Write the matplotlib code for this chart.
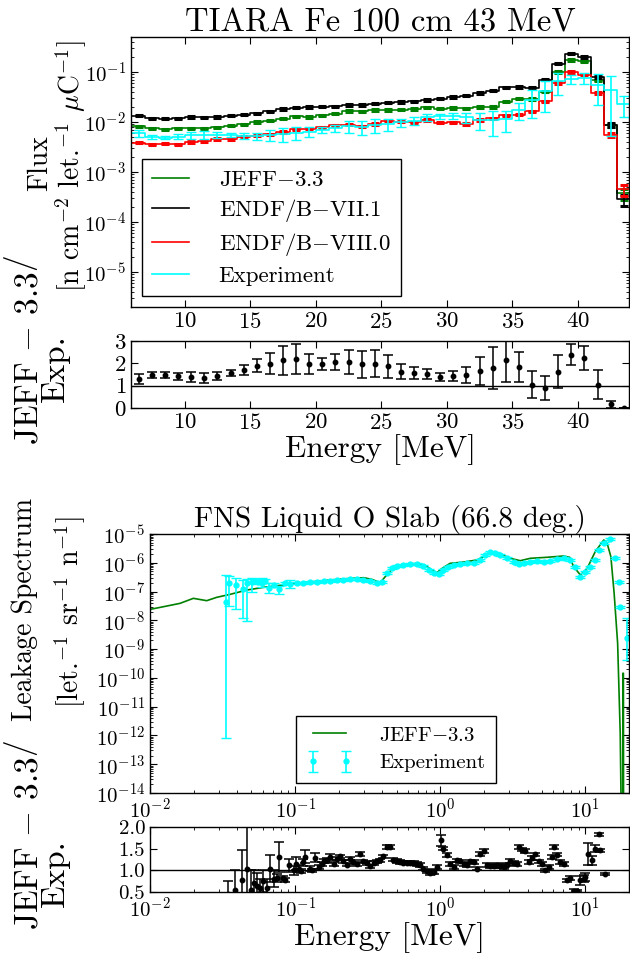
import matplotlib
matplotlib.use("Agg")
import matplotlib.pyplot as plt
from matplotlib.ticker import LogLocator, NullFormatter
import numpy as np

plt.rcParams["font.family"] = "serif"
plt.rcParams["font.serif"] = ["cmr10"]
plt.rcParams["mathtext.fontset"] = "cm"
plt.rcParams["axes.unicode_minus"] = False
plt.rcParams["axes.formatter.use_mathtext"] = True
plt.rcParams["xtick.direction"] = "in"
plt.rcParams["ytick.direction"] = "in"
plt.rcParams["xtick.top"] = True
plt.rcParams["ytick.right"] = True
plt.rcParams["xtick.labelsize"] = 15
plt.rcParams["ytick.labelsize"] = 15
plt.rcParams["xtick.major.size"] = 5
plt.rcParams["ytick.major.size"] = 5
plt.rcParams["xtick.minor.size"] = 2.5
plt.rcParams["ytick.minor.size"] = 2.5

# ---------------- TIARA Fe 100 cm 43 MeV (1 MeV bins, 6..44 MeV)
tiara_edges = list(range(6, 45))
tiara_jeff = [0.00813, 0.00741, 0.00718, 0.00741, 0.00752, 0.00741, 0.00776, 0.00838,
              0.00905, 0.00993, 0.0106, 0.0117, 0.0129, 0.0125, 0.0137, 0.0146,
              0.0165, 0.0163, 0.0173, 0.0173, 0.0175, 0.0181, 0.0196, 0.0184,
              0.0190, 0.0187, 0.0199, 0.0199, 0.0254, 0.0292, 0.0287, 0.0403,
              0.100, 0.174, 0.164, 0.0681, 0.00851, 0.000373]
tiara_endf71 = [0.0133, 0.0119, 0.0116, 0.0119, 0.0125, 0.0123, 0.0125, 0.0133,
                0.0139, 0.0150, 0.0163, 0.0181, 0.0192, 0.0199, 0.0201, 0.0205,
                0.0218, 0.0218, 0.0232, 0.0243, 0.0250, 0.0258, 0.0274, 0.0292,
                0.0315, 0.0335, 0.0379, 0.0422, 0.0492, 0.0500, 0.0485, 0.0702,
                0.147, 0.233, 0.200, 0.0794, 0.00877, 0.000283]
tiara_endf80 = [0.00388, 0.00359, 0.00370, 0.00359, 0.00400, 0.00419, 0.00459, 0.00459,
                0.00512, 0.00536, 0.00570, 0.00635, 0.00718, 0.00730, 0.00787, 0.00851,
                0.00877, 0.00813, 0.00918, 0.0106, 0.0102, 0.00977, 0.0110, 0.00962,
                0.00977, 0.00918, 0.0110, 0.0119, 0.0135, 0.0139, 0.0163, 0.0258,
                0.0601, 0.100, 0.0884, 0.0379, 0.00552, 0.000449]
tiara_exp = [0.00597, 0.00512, 0.00489, 0.00512, 0.00544, 0.00552, 0.00552, 0.00544,
             0.00527, 0.00527, 0.00552, 0.00579, 0.00615, 0.00644, 0.00697, 0.00752,
             0.00813, 0.00800, 0.00877, 0.00918, 0.00977, 0.0107, 0.0125, 0.0129,
             0.0133, 0.0125, 0.0110, 0.0110, 0.0114, 0.0175, 0.0279, 0.0409,
             0.0650, 0.0724, 0.0758, 0.0557, 0.0442, 0.0232]
tiara_exp_relerr = [0.18, 0.09, 0.08, 0.11, 0.17, 0.17, 0.12, 0.09, 0.13, 0.16, 0.24, 0.31,
                    0.30, 0.22, 0.14, 0.18, 0.26, 0.31, 0.30, 0.27, 0.20, 0.17, 0.15, 0.13,
                    0.15, 0.23, 0.38, 0.52, 0.45, 0.37, 0.56, 0.62, 0.46, 0.20, 0.24, 0.61,
                    0.88, 0.45]
tiara_calc_relerr = [0.03] * 36 + [0.08, 0.25]
tiara_ratio = [1.30, 1.48, 1.48, 1.42, 1.39, 1.35, 1.44, 1.56, 1.71, 1.90, 1.99, 2.13,
               2.20, 1.98, 1.96, 2.04, 2.07, 1.95, 1.98, 1.86, 1.63, 1.56, 1.53, 1.38,
               1.44, 1.48, 1.65, 1.80, 2.13, 1.83, 1.05, 0.89, 1.63, 2.38, 2.25, 1.05,
               0.17, 0.01]
tiara_ratio_err = [0.23, 0.13, 0.12, 0.16, 0.23, 0.23, 0.17, 0.14, 0.23, 0.30, 0.48, 0.65,
                   0.66, 0.44, 0.28, 0.36, 0.54, 0.61, 0.60, 0.50, 0.32, 0.26, 0.23, 0.18,
                   0.22, 0.34, 0.62, 0.94, 0.95, 0.67, 0.59, 0.55, 0.75, 0.47, 0.53, 0.64,
                   0.15, 0.01]

# ---------------- FNS liquid oxygen slab, 66.8 deg
fns_jeff_e = [0.0100, 0.0124, 0.0161, 0.0199, 0.0246, 0.0288, 0.0357, 0.0465, 0.0605,
              0.0789, 0.100, 0.134, 0.174, 0.227, 0.296, 0.338, 0.386, 0.418, 0.464,
              0.559, 0.690, 0.788, 0.877, 0.949, 1.03, 1.17, 1.45, 1.79, 1.99, 2.21,
              2.52, 3.04, 3.56, 4.18, 5.44, 7.09, 7.80, 8.31, 9.25, 10.3, 11.7, 13.4,
              14.1, 15.0, 15.8, 16.7, 17.4, 17.8, 18.1, 18.15, 18.3, 18.35]
fns_jeff = [2.40e-8, 2.98e-8, 3.89e-8, 5.81e-8, 4.82e-8, 6.29e-8, 8.0e-8, 1.13e-7, 1.40e-7,
            1.64e-7, 1.93e-7, 2.20e-7, 2.52e-7, 2.80e-7, 3.03e-7, 2.65e-7, 2.03e-7, 3.29e-7,
            5.92e-7, 8.36e-7, 9.55e-7, 8.14e-7, 5.61e-7, 4.53e-7, 6.40e-7, 9.55e-7, 1.06e-6,
            1.25e-6, 1.63e-6, 2.43e-6, 2.13e-6, 1.43e-6, 1.18e-6, 1.43e-6, 1.55e-6, 1.72e-6,
            1.55e-6, 7.31e-7, 3.76e-7, 6.40e-7, 2.43e-6, 6.18e-6, 5.0e-6, 1.63e-6, 8.65e-8,
            1.58e-9, 1.18e-12, 1e-16, 1e-16, 1.45e-10, 1.45e-10, 1e-16]

fns_exp_e = [0.0334, 0.0351, 0.0390, 0.0434, 0.0469, 0.0502, 0.0530, 0.0558, 0.0589, 0.0621,
             0.0665, 0.0710, 0.0780, 0.0853, 0.0925, 0.103, 0.114, 0.127, 0.141, 0.157,
             0.174, 0.194, 0.215, 0.239, 0.266, 0.296, 0.329, 0.366, 0.396, 0.429,
             0.465, 0.502, 0.558, 0.621, 0.690, 0.767, 0.832, 0.900, 0.975, 1.05,
             1.14, 1.24, 1.37, 1.53, 1.70, 1.89, 2.04, 2.21, 2.39, 2.59,
             2.88, 3.21, 3.47, 3.76, 4.18, 4.64, 5.16, 5.74, 6.38, 7.09,
             7.88, 8.53, 9.25, 10.0, 10.8, 11.7, 12.4, 13.4, 14.9, 16.1,
             17.0, 17.4, 19.4]
fns_exp = [4.22e-8, 1.93e-7, 1.69e-7, 1.19e-7, 1.93e-7, 2.20e-7, 2.39e-7, 2.20e-7, 2.03e-7, 2.39e-7,
           1.29e-7, 1.69e-7, 1.19e-7, 2.03e-7, 1.83e-7, 2.03e-7, 1.93e-7, 2.20e-7, 2.20e-7, 2.39e-7,
           2.39e-7, 2.52e-7, 2.52e-7, 2.65e-7, 2.65e-7, 2.52e-7, 2.26e-7, 1.93e-7, 2.20e-7, 4.30e-7,
           6.40e-7, 7.72e-7, 8.14e-7, 8.83e-7, 9.06e-7, 7.72e-7, 5.61e-7, 4.30e-7, 4.07e-7, 5.61e-7,
           7.31e-7, 8.36e-7, 9.06e-7, 9.55e-7, 1.01e-6, 1.25e-6, 1.86e-6, 2.31e-6, 2.13e-6, 1.86e-6,
           1.43e-6, 1.09e-6, 9.06e-7, 1.01e-6, 1.09e-6, 1.15e-6, 1.09e-6, 1.15e-6, 1.32e-6, 1.43e-6,
           1.25e-6, 7.31e-7, 3.29e-7, 4.91e-7, 7.31e-7, 1.25e-6, 2.78e-6, 4.74e-6, 6.53e-6, 1.43e-6,
           2.20e-7, 2.98e-8, 2.36e-9]
fns_exp_rel_lo = [0.99998, 0.84, 0.85, 0.90, 0.95, 0.55, 0.15, 0.15, 0.31, 0.15,
                  0.29, 0.15, 0.33, 0.10, 0.30] + [0.08] * 57 + [0.82]
fns_exp_rel_hi = [7.9, 0.80, 0.79, 1.12, 0.41, 0.30, 0.15, 0.15, 0.41, 0.15,
                  0.50, 0.15, 0.31, 0.10, 0.38] + [0.08] * 57 + [4.0]

fns_ratio_e = [0.0347, 0.0385, 0.0429, 0.0469, 0.0495, 0.0522, 0.0550, 0.0574, 0.0605, 0.0638,
               0.0673, 0.0710, 0.0748, 0.0780, 0.0822, 0.0857, 0.0914, 0.0975, 0.101, 0.106,
               0.109, 0.114, 0.117, 0.127, 0.130, 0.137, 0.145, 0.153, 0.157, 0.165,
               0.174, 0.184, 0.194, 0.204, 0.215, 0.227, 0.239, 0.252, 0.266, 0.281,
               0.296, 0.312, 0.329, 0.347, 0.366, 0.386, 0.406, 0.429, 0.452, 0.476,
               0.502, 0.530, 0.558, 0.589, 0.621, 0.655, 0.690, 0.728, 0.767, 0.809,
               0.853, 0.900, 0.949, 1.01, 1.05, 1.11, 1.17, 1.24, 1.30, 1.37,
               1.45, 1.53, 1.61, 1.70, 1.79, 1.89, 1.99, 2.10, 2.21, 2.33,
               2.46, 2.59, 2.74, 2.88, 3.04, 3.21, 3.38, 3.47, 3.66, 3.86,
               4.07, 4.29, 4.52, 4.77, 5.02, 5.30, 5.58, 5.89, 6.11, 6.38,
               6.73, 7.09, 7.48, 7.88, 8.31, 8.77, 9.25, 9.75, 10.0, 10.5,
               11.1, 11.6, 12.4, 12.7, 13.7]
fns_ratio = [0.45, 0.55, 0.78, 1.04, 0.55, 0.71, 0.65, 0.60, 0.75, 0.59,
             1.04, 0.81, 0.82, 1.31, 0.83, 0.77, 1.12, 1.00, 1.15, 1.04,
             0.98, 1.19, 1.31, 1.04, 1.00, 1.29, 1.08, 1.15, 1.21, 1.23,
             1.31, 1.15, 1.27, 1.32, 1.21, 1.13, 1.27, 1.19, 1.15, 1.38,
             1.21, 1.17, 1.09, 1.17, 1.21, 1.23, 1.32, 1.54, 1.54, 1.25,
             1.22, 1.19, 1.18, 1.18, 1.18, 1.17, 1.15, 1.12, 1.04, 0.98,
             0.94, 0.96, 1.08, 1.69, 1.50, 1.35, 1.15, 1.08, 1.23, 1.21,
             1.15, 1.12, 1.21, 1.19, 1.04, 1.38, 1.45, 1.12, 1.10, 1.09,
             1.13, 1.10, 1.08, 1.13, 1.22, 1.17, 1.15, 1.54, 1.48, 1.45,
             1.19, 1.28, 1.37, 1.21, 1.15, 1.00, 1.08, 1.31, 1.54, 1.36,
             1.19, 1.15, 0.77, 0.82, 0.52, 0.52, 0.77, 0.81, 0.85, 1.37,
             1.23, 1.50, 1.83, 1.46, 0.91]
fns_ratio_err = ([0.30, 0.45, 0.70, 0.96, 0.45, 0.30, 0.30, 0.20, 0.25, 0.20,
                  0.32, 0.20, 0.10, 0.35, 0.05, 0.05, 0.15, 0.10, 0.15, 0.08,
                  0.05, 0.08, 0.15, 0.05, 0.04, 0.10, 0.04, 0.04, 0.05, 0.05,
                  0.06] + [0.04] * 32 + [0.12] + [0.04] * 41 +
                 [0.03, 0.10, 0.08, 0.10, 0.25, 0.10, 0.08, 0.04, 0.03, 0.02])

W, H = 630, 957
fig = plt.figure(figsize=(W / 100, H / 100), dpi=100)


def box(l, t, r, b):
    return [l / W, 1 - b / H, (r - l) / W, (b - t) / H]


ax1 = fig.add_axes(box(131, 37, 629, 307))
ax2 = fig.add_axes(box(131, 341, 629, 408))
ax3 = fig.add_axes(box(150, 534, 629, 793))
ax4 = fig.add_axes(box(150, 827, 629, 892))

# ---- top flux panel
edges = np.array(tiara_edges, dtype=float)
centers = 0.5 * (edges[:-1] + edges[1:])
series = [(tiara_jeff, "green", r"JEFF$-$3.3"),
          (tiara_endf71, "black", r"ENDF/B$-$VII.1"),
          (tiara_endf80, "red", r"ENDF/B$-$VIII.0")]
for vals, col, lab in series:
    v = np.array(vals)
    ax1.step(edges, np.append(v, v[-1]), where="post", color=col, lw=1.2, label=lab)
    ax1.errorbar(centers, v, yerr=v * np.array(tiara_calc_relerr), fmt="none",
                 ecolor=col, elinewidth=1.2, capsize=3, capthick=2.2)
ve = np.array(tiara_exp)
ax1.step(edges, np.append(ve, ve[-1]), where="post", color="cyan", lw=1.2, label="Experiment")
ax1.errorbar(centers, ve, yerr=ve * np.array(tiara_exp_relerr), fmt="none",
             ecolor="cyan", elinewidth=1.2, capsize=3.5)
ax1.set_yscale("log")
ax1.set_xlim(5.9, 43.9)
ax1.set_ylim(2e-6, 0.5)
ax1.set_xticks([10, 15, 20, 25, 30, 35, 40])
ax1.yaxis.set_major_locator(LogLocator(base=10, numticks=20))
ax1.yaxis.set_minor_locator(LogLocator(base=10, subs=np.arange(2, 10), numticks=100))
ax1.yaxis.set_minor_formatter(NullFormatter())
ax1.tick_params(axis="x", labelsize=16.5)
ax1.set_title("TIARA Fe 100 cm 43 MeV", fontsize=23.5, pad=3)
leg = ax1.legend(loc="lower left", bbox_to_anchor=(0.022, 0.041), borderaxespad=0,
                 fontsize=16.5, fancybox=False, edgecolor="black", framealpha=1,
                 handlelength=1.6, handletextpad=1.3, labelspacing=0.32, borderpad=0.45)
leg.get_frame().set_linewidth(1.0)

# ---- top ratio panel
ax2.errorbar(centers, tiara_ratio, yerr=tiara_ratio_err, fmt="o", color="black",
             markersize=3.2, elinewidth=1.1, capsize=3.5, capthick=1.1)
ax2.axhline(1.0, color="black", lw=1.0)
ax2.set_xlim(5.9, 43.9)
ax2.set_ylim(0, 3)
ax2.set_yticks([0, 1, 2, 3])
ax2.set_xticks([10, 15, 20, 25, 30, 35, 40])
ax2.tick_params(labelsize=16.5)
ax2.set_xlabel("Energy [MeV]", fontsize=22.5, labelpad=1)

# ---- bottom spectrum panel
ax3.plot(fns_jeff_e, fns_jeff, color="green", lw=1.2, label=r"JEFF$-$3.3")
fe = np.array(fns_exp)
ax3.errorbar(fns_exp_e, fe, yerr=[fe * np.array(fns_exp_rel_lo), fe * np.array(fns_exp_rel_hi)],
             fmt="o", color="cyan", markersize=3.5, elinewidth=1.2, capsize=3.5,
             label="Experiment")
ax3.set_xscale("log")
ax3.set_yscale("log")
ax3.set_xlim(0.01, 20)
ax3.set_ylim(1e-14, 1e-5)
ax3.yaxis.set_major_locator(LogLocator(base=10, numticks=20))
ax3.yaxis.set_minor_locator(LogLocator(base=10, subs=np.arange(2, 10), numticks=100))
ax3.yaxis.set_minor_formatter(NullFormatter())
ax3.set_title("FNS Liquid O Slab (66.8 deg.)", fontsize=21, pad=4)
leg2 = ax3.legend(loc="lower left", bbox_to_anchor=(0.305, 0.039), borderaxespad=0,
                  fontsize=15, fancybox=False, edgecolor="black", framealpha=1,
                  handlelength=2.2, handletextpad=1.3, labelspacing=0.45, borderpad=0.5,
                  numpoints=2)
leg2.get_frame().set_linewidth(1.0)

# ---- bottom ratio panel
ax4.errorbar(fns_ratio_e, fns_ratio, yerr=fns_ratio_err, fmt="o", color="black",
             markersize=3.2, elinewidth=1.1, capsize=3.5, capthick=1.1)
ax4.axhline(1.0, color="black", lw=1.0)
ax4.set_xscale("log")
ax4.set_xlim(0.01, 20)
ax4.set_ylim(0.5, 2.0)
ax4.set_yticks([0.5, 1.0, 1.5, 2.0])
ax4.set_yticklabels(["0.5", "1.0", "1.5", "2.0"])
ax4.set_xlabel("Energy [MeV]", fontsize=22.5, labelpad=1)

for ax in (ax1, ax2, ax3, ax4):
    for sp in ax.spines.values():
        sp.set_linewidth(1.0)
    ax.tick_params(which="both", direction="in", top=True, right=True)


# ---- y labels placed like the reference
def ytext(x, y, s, size=20):
    fig.text(x / W, 1 - y / H, s, rotation=90, ha="center", va="center", fontsize=size)


ratio_label = r"JEFF$\,-\,$3.3$\left/\right.$"
ytext(40, 163, "Flux")
ytext(71, 166, r"[n cm$^{-2}$ let.$^{-1}$ $\mu$C$^{-1}$]")
ytext(25, 350, ratio_label, 24)
ytext(55, 368, "Exp.", 24)
ytext(25, 609, "Leakage Spectrum")
ytext(70, 612, r"[let.$^{-1}$ sr$^{-1}$ n$^{-1}$]")
ytext(25, 835, ratio_label, 24)
ytext(55, 873, "Exp.", 24)

fig.savefig("out.png", dpi=100)
